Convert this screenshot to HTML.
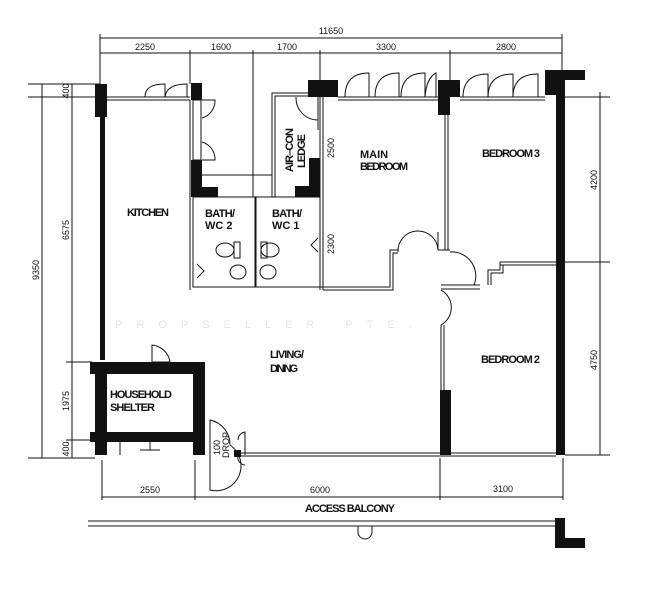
<!DOCTYPE html>
<html><head><meta charset="utf-8"><style>
html,body{margin:0;padding:0;background:#fff}
svg{display:block}
text{font-family:"Liberation Sans",sans-serif;fill:#111}
.l{font-size:11px;font-weight:bold}
.d{font-size:9px}
</style></head><body>
<svg width="661" height="600" viewBox="0 0 661 600" xmlns="http://www.w3.org/2000/svg">
<g stroke="#111" stroke-width="1" fill="none">
<line x1="100" y1="38" x2="562" y2="38"/>
<line x1="100" y1="53" x2="562" y2="53"/>
<line x1="100" y1="34" x2="100" y2="84"/>
<line x1="190" y1="50" x2="190" y2="84"/>
<line x1="253" y1="50" x2="253" y2="197"/>
<line x1="320" y1="50" x2="320" y2="80"/>
<line x1="450" y1="50" x2="450" y2="80"/>
<line x1="562" y1="34" x2="562" y2="70"/>
<line x1="42" y1="84" x2="42" y2="458"/>
<line x1="72" y1="84" x2="72" y2="458"/>
<line x1="28" y1="84" x2="100" y2="84"/>
<line x1="28" y1="97" x2="100" y2="97"/>
<line x1="66" y1="362" x2="92" y2="362"/>
<line x1="66" y1="440" x2="92" y2="440"/>
<line x1="28" y1="458" x2="95" y2="458"/>
<line x1="600" y1="92" x2="600" y2="455"/>
<line x1="565" y1="97" x2="610" y2="97"/>
<line x1="565" y1="262" x2="610" y2="262"/>
<line x1="565" y1="455" x2="610" y2="455"/>
<line x1="102" y1="497" x2="563" y2="497"/>
<line x1="102" y1="460" x2="102" y2="500"/>
<line x1="195" y1="460" x2="195" y2="500"/>
<line x1="440" y1="458" x2="440" y2="500"/>
<line x1="563" y1="458" x2="563" y2="500"/>
<line x1="107" y1="97" x2="190" y2="97"/>
<line x1="107" y1="100" x2="190" y2="100"/>
<path d="M145 97 C145 89 150 84 165 84 V97 M165 97 C166 89 172 84 187 84 V97"/>
<line x1="190" y1="100" x2="190" y2="290"/>
<rect x="193" y="100" width="8" height="60"/>
<path d="M202 100 H215 A18 18 0 0 1 202 118 M202 142 A18 18 0 0 1 215 160 H202"/>
<line x1="202" y1="175" x2="272" y2="175"/>
<path d="M272 197 V93 H312 M275 197 V96 H312"/>
<path d="M318 97 V130 M296 97 A22 22 0 0 0 318 120"/>
<rect x="193" y="197" width="62" height="90"/>
<rect x="256" y="197" width="64" height="90"/>
<line x1="205" y1="197" x2="295" y2="197" stroke-dasharray="2 1"/>
<ellipse cx="225" cy="250" rx="9" ry="7"/><rect x="234" y="242" width="6" height="16"/>
<ellipse cx="238" cy="272" rx="8" ry="7"/>
<ellipse cx="270" cy="250" rx="9" ry="7"/><rect x="261" y="242" width="6" height="16"/>
<ellipse cx="268" cy="272" rx="8" ry="7"/>
<path d="M197 264 L204 271 L197 278 M318 238 L311 245 L318 252"/>
<line x1="320" y1="97" x2="320" y2="290"/>
<line x1="323" y1="97" x2="323" y2="290"/>
<line x1="338" y1="97" x2="440" y2="97"/>
<line x1="338" y1="100" x2="440" y2="100"/>
<path d="M345 97 C345 82 352 73 369 73 V97 M375 97 C375 82 382 73 399 73 V97 M401 97 C401 82 408 73 425 73 V97 M425 97 C426 84 430 76 436 73 V97"/>
<path d="M320 287 H390 V250 H398 V248 M323 290 H393 V253 H398"/>
<path d="M398 252 A20 20 0 0 1 438 250 L438 232"/>
<line x1="445" y1="115" x2="445" y2="250"/>
<line x1="448" y1="115" x2="448" y2="250"/>
<path d="M438 250 L450 250"/>
<line x1="460" y1="97" x2="545" y2="97"/>
<line x1="460" y1="100" x2="545" y2="100"/>
<path d="M463 97 C463 83 470 74 488 74 V97 M488 97 C488 83 495 74 513 74 V97 M513 97 C513 83 520 74 538 74 V97"/>
<path d="M500 262 H556 M500 265 H556 M500 262 V270 H488 V285 M503 265 V273 H491 V285"/>
<path d="M441 285 H480 M441 289 H480"/>
<path d="M450 252 A24 24 0 0 1 474 285 M441 290 A20 20 0 0 1 441 325"/>
<line x1="441" y1="325" x2="441" y2="390"/>
<line x1="444" y1="325" x2="444" y2="390"/>
<line x1="240" y1="453" x2="556" y2="453"/>
<line x1="240" y1="456" x2="556" y2="456"/>
<path d="M152 362 V345 A20 20 0 0 1 170 362"/>
<rect x="152" y="362" width="18" height="10"/>
<path d="M120 442 V455 M150 442 V450 H140 M150 450 H160"/>
<path d="M210 420 A25 25 0 0 1 230 445 A25 25 0 0 1 210 490 Z"/>
<path d="M238 440 A8 8 0 0 1 245 432 V455 M238 455 A8 8 0 0 0 245 465"/>
<line x1="88" y1="521" x2="555" y2="521"/>
<line x1="88" y1="526" x2="555" y2="526"/>
<path d="M358 526 V532 A7 7 0 0 0 372 532 V526"/>
</g>
<g fill="#111">
<rect x="95" y="84" width="12" height="33"/>
<rect x="100" y="117" width="5" height="243"/>
<rect x="191" y="83" width="11" height="17"/>
<rect x="191" y="160" width="11" height="37"/>
<rect x="191" y="187" width="27" height="10"/>
<rect x="308" y="80" width="30" height="17"/>
<rect x="309" y="158" width="11" height="39"/>
<rect x="295" y="186" width="25" height="11"/>
<rect x="438" y="80" width="22" height="17"/>
<rect x="438" y="80" width="12" height="35"/>
<rect x="545" y="70" width="40" height="10"/>
<rect x="545" y="70" width="20" height="25"/>
<rect x="556" y="70" width="9" height="385"/>
<rect x="440" y="390" width="11" height="65"/>
<rect x="90" y="362" width="115" height="12"/>
<rect x="95" y="362" width="12" height="93"/>
<rect x="90" y="432" width="115" height="10"/>
<rect x="193" y="362" width="12" height="93"/>
<rect x="234" y="450" width="7" height="7"/>
<rect x="555" y="518" width="10" height="30"/>
<rect x="555" y="538" width="30" height="10"/>
</g>
<text class="d" x="331" y="34" text-anchor="middle">11650</text>
<text class="d" x="145" y="50" text-anchor="middle">2250</text>
<text class="d" x="221" y="50" text-anchor="middle">1600</text>
<text class="d" x="287" y="50" text-anchor="middle">1700</text>
<text class="d" x="386" y="50" text-anchor="middle">3300</text>
<text class="d" x="506" y="50" text-anchor="middle">2800</text>
<text class="d" transform="translate(39,270) rotate(-90)" text-anchor="middle">9350</text>
<text class="d" transform="translate(69,91) rotate(-90)" text-anchor="middle">400</text>
<text class="d" transform="translate(69,230) rotate(-90)" text-anchor="middle">6575</text>
<text class="d" transform="translate(69,401) rotate(-90)" text-anchor="middle">1975</text>
<text class="d" transform="translate(69,449) rotate(-90)" text-anchor="middle">400</text>
<text class="d" transform="translate(334,148) rotate(-90)" text-anchor="middle">2500</text>
<text class="d" transform="translate(334,244) rotate(-90)" text-anchor="middle">2300</text>
<text class="d" transform="translate(597,180) rotate(-90)" text-anchor="middle">4200</text>
<text class="d" transform="translate(597,360) rotate(-90)" text-anchor="middle">4750</text>
<text class="d" x="150" y="493" text-anchor="middle">2550</text>
<text class="d" x="320" y="493" text-anchor="middle">6000</text>
<text class="d" x="503" y="492" text-anchor="middle">3100</text>
<text class="l" x="127" y="216" textLength="42">KITCHEN</text>
<text class="l" x="205" y="217" textLength="30">BATH/</text>
<text class="l" x="205" y="229">WC 2</text>
<text class="l" x="272" y="217" textLength="30">BATH/</text>
<text class="l" x="272" y="229">WC 1</text>
<text class="l" transform="translate(293,172) rotate(-90)" textLength="44">AIR–CON</text>
<text class="l" transform="translate(305,168) rotate(-90)" textLength="34">LEDGE</text>
<text class="l" x="360" y="158">MAIN</text>
<text class="l" x="360" y="170" textLength="48">BEDROOM</text>
<text class="l" x="482" y="157" textLength="58">BEDROOM 3</text>
<text class="l" x="270" y="358" textLength="34">LIVING/</text>
<text class="l" x="270" y="372" textLength="28">DINING</text>
<text class="l" x="481" y="363" textLength="59">BEDROOM 2</text>
<text class="l" x="110" y="398" textLength="62">HOUSEHOLD</text>
<text class="l" x="110" y="411" textLength="45">SHELTER</text>
<text class="d" transform="translate(220,455) rotate(-90)">100</text>
<text class="d" transform="translate(229,458) rotate(-90)">DROP</text>
<text class="l" x="350" y="512" text-anchor="middle" textLength="90">ACCESS BALCONY</text>
<text x="115" y="328" style="font-size:11px;fill:#e6e6e6;letter-spacing:14px">PROPSELLER PTE.</text>
</svg>
</body></html>
